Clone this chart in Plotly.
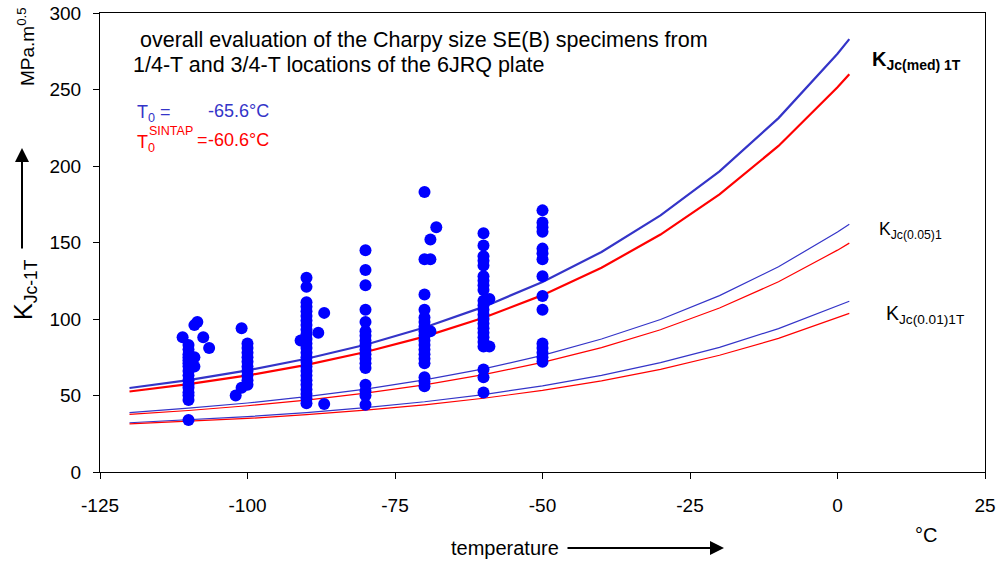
import plotly.graph_objects as go

# ---------------- data ----------------
curve_T = [-120, -110, -100, -90, -80, -70, -60, -50, -40, -30, -20, -10, 0, 2]

blue_med = [54.9, 60.1, 66.4, 74.0, 83.2, 94.4, 107.9, 124.2, 143.8, 167.7, 196.5, 231.3, 273.4, 282.9]
blue_p05 = [38.8, 41.7, 45.1, 49.2, 54.2, 60.2, 67.4, 76.2, 86.9, 99.7, 115.3, 134.1, 156.9, 162.0]
blue_p01 = [32.2, 34.0, 36.2, 38.8, 42.1, 45.9, 50.6, 56.3, 63.2, 71.5, 81.5, 93.7, 108.4, 111.6]

red_med = [52.6, 57.4, 63.1, 70.0, 78.4, 88.5, 100.8, 115.6, 133.5, 155.2, 181.4, 213.1, 251.4, 259.9]
red_p05 = [37.6, 40.2, 43.3, 47.0, 51.5, 57.0, 63.6, 71.6, 81.3, 93.0, 107.2, 124.3, 145.0, 149.6]
red_p01 = [31.4, 33.0, 35.0, 37.5, 40.4, 43.9, 48.2, 53.3, 59.6, 67.1, 76.3, 87.3, 100.7, 103.7]

# measured K_Jc-1T values
col_m110 = [83, 80, 77, 75, 73, 71, 69, 66, 63, 60, 57, 55, 52, 50, 47, 34]
col_m100 = [84, 81, 78, 75, 72, 69, 66, 63, 60, 57]
col_m90 = [127, 121, 111, 108, 105, 102, 99, 96, 93, 90, 87, 84, 81, 78, 75, 72, 69,
           66, 63, 60, 57, 54, 51, 48, 45]
col_m80 = [145, 132, 122, 106, 98, 92, 89, 86, 83, 80, 77, 74, 71, 68, 57, 53, 50, 44]
col_m70 = [183, 139, 116, 106, 101, 98, 95, 92, 89, 86, 83, 80, 77, 74, 71, 62, 59, 56]
col_m60 = [156, 148, 141, 138, 135, 128, 125, 122, 119, 112, 109, 106, 103, 100, 97, 94,
           91, 88, 85, 82, 67, 62, 52]
col_m50 = [171, 163, 160, 157, 146, 143, 139, 128, 115, 106, 84, 81, 78, 75, 72]

extra_T = [-109, -108.5, -111, -107.5, -106.5, -109, -109, -101, -101, -102,
           -91, -88, -87, -87, -68, -69, -69, -69, -59, -59]
extra_K = [96, 98, 88, 88, 81, 75, 69, 94, 55, 50,
           86, 91, 104, 44.5, 160, 152, 139, 92, 113, 82]

x_ticks = [-125, -100, -75, -50, -25, 0, 25]
y_ticks = [0, 50, 100, 150, 200, 250, 300]

# ---------------- figure ----------------
BLUE_LINE = "#3434C8"
RED_LINE = "#FF0000"
DOT = "#0000FF"
FONT = "Liberation Sans, Arial, sans-serif"

pts_T, pts_K = [], []
for t, col in [(-110, col_m110), (-100, col_m100), (-90, col_m90), (-80, col_m80),
               (-70, col_m70), (-60, col_m60), (-50, col_m50)]:
    pts_T += [t] * len(col)
    pts_K += col
pts_T += extra_T
pts_K += extra_K

fig = go.Figure()
for ys, col, w in [(blue_p01, BLUE_LINE, 1.2), (red_p01, RED_LINE, 1.2),
                   (blue_p05, BLUE_LINE, 1.2), (red_p05, RED_LINE, 1.2),
                   (blue_med, BLUE_LINE, 2.2), (red_med, RED_LINE, 2.2)]:
    fig.add_trace(go.Scatter(x=curve_T, y=ys, mode="lines",
                             line=dict(color=col, width=w), showlegend=False,
                             hoverinfo="skip"))

fig.add_trace(go.Scatter(x=pts_T, y=pts_K, mode="markers",
                         marker=dict(color=DOT, size=12, line=dict(width=0)),
                         showlegend=False))

fig.update_xaxes(range=[-125, 25], tickvals=x_ticks, ticktext=[str(v) for v in x_ticks],
                 showgrid=False, zeroline=False, showline=True, linecolor="black",
                 linewidth=1, mirror=True, ticks="outside", ticklen=6, tickcolor="black",
                 tickfont=dict(size=19, color="black", family=FONT),
                 ticklabelstandoff=10, automargin=False)
fig.update_yaxes(range=[0, 300], tickvals=y_ticks, ticktext=[str(v) for v in y_ticks],
                 showgrid=False, zeroline=False, showline=True, linecolor="black",
                 linewidth=1, mirror=True, ticks="outside", ticklen=6, tickcolor="black",
                 tickfont=dict(size=19, color="black", family=FONT),
                 ticklabelstandoff=8, automargin=False)


def px2paper(px, py):
    return (px - 100) / 885.0, (472 - py) / 459.0


annos = []


def txt(text, px, py, size, color="black", xanchor="left", textangle=0):
    x, y = px2paper(px, py)
    annos.append(dict(text=text, x=x, y=y, xref="paper", yref="paper", showarrow=False,
                      xanchor=xanchor, yanchor="middle", textangle=textangle,
                      font=dict(size=size, color=color, family=FONT)))


txt("overall evaluation of the Charpy size SE(B) specimens from", 138, 40, 21.5)
txt("1/4-T and 3/4-T locations of the 6JRQ plate", 131, 65, 21.5)
txt("T<sub>0</sub> =", 135, 114, 18, BLUE_LINE)
txt("-65.6°C", 206, 111, 18, BLUE_LINE)
txt("T<sub>0</sub>", 135, 143, 18, RED_LINE)
txt("SINTAP", 147, 131, 12.5, RED_LINE)
txt("=", 195, 140, 18, RED_LINE)
txt("-60.6°C", 206, 140, 18, RED_LINE)
txt("<b>K<sub>Jc(med) 1T</sub></b>", 870, 60, 20)
txt("K<sub>Jc(0.05)1</sub>", 877, 230, 17.5)
txt("K<sub>Jc(0.01)1T</sub>", 884, 314, 19.5)
txt("°C", 926, 535, 20, xanchor="center")
txt("temperature", 505, 548, 20, xanchor="center")
txt("MPa.m<sup>0.5</sup>", 26, 47, 19, xanchor="center", textangle=-90)
txt("K<sub>Jc-1T</sub>", 25, 290, 25, xanchor="center", textangle=-90)

# arrows
hx, hy = px2paper(22, 148)
annos.append(dict(x=hx, y=hy, xref="paper", yref="paper", ax=0, ay=102, axref="pixel",
                  ayref="pixel", text="", showarrow=True, arrowhead=2, arrowsize=1.4,
                  arrowwidth=2, arrowcolor="black"))
hx, hy = px2paper(724, 548)
annos.append(dict(x=hx, y=hy, xref="paper", yref="paper", ax=-158, ay=0, axref="pixel",
                  ayref="pixel", text="", showarrow=True, arrowhead=2, arrowsize=1.4,
                  arrowwidth=2, arrowcolor="black"))

fig.update_layout(width=1000, height=564, margin=dict(l=100, r=15, t=13, b=92),
                  plot_bgcolor="white", paper_bgcolor="white",
                  font=dict(family=FONT, color="black"), annotations=annos,
                  showlegend=False)

fig.write_html("out.html")
